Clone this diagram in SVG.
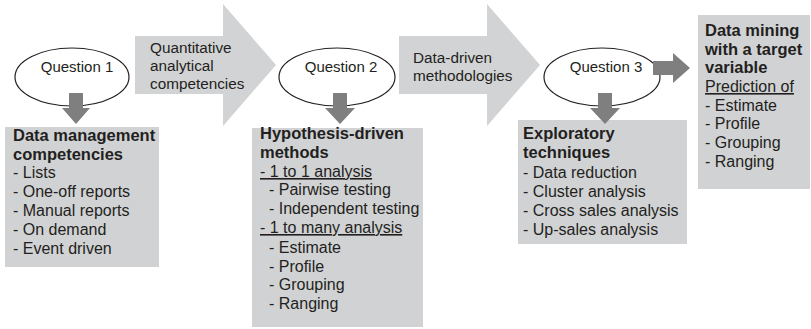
<svg xmlns="http://www.w3.org/2000/svg" width="811" height="329" viewBox="0 0 811 329">
<style>
text{font-family:"Liberation Sans",Arial,sans-serif;font-size:16px;fill:#231f20}
.b{font-weight:bold;font-size:16.5px}
.u{text-decoration:underline}
.lab{font-size:15.3px}
.ql{font-size:15px}
.big{fill:#d2d3d5}
.box{fill:#d1d2d4}
.sm{fill:#7f7f7f}
.q{fill:#fff;stroke:#231f20;stroke-width:1.2}
</style>
<rect width="811" height="329" fill="#fff"/>
<g id="connectors">
<polygon class="big" points="135,36 223,36 223,4 276,65 223,126 223,94 135,94"/>
<polygon class="big" points="399,36 487,36 487,4 540,65 487,126 487,94 399,94"/>
</g>
<g id="box1">
<rect class="box" x="5" y="127" width="154" height="140"/>
<text class="b" x="13" y="141">Data management</text>
<text class="b" x="13" y="160">competencies</text>
<text x="13" y="178">- Lists</text>
<text x="13" y="197">- One-off reports</text>
<text x="13" y="216">- Manual reports</text>
<text x="13" y="235">- On demand</text>
<text x="13" y="254">- Event driven</text>
</g>
<g id="box2">
<rect class="box" x="252" y="128" width="171" height="199"/>
<text class="b" x="260" y="139">Hypothesis-driven</text>
<text class="b" x="260" y="158">methods</text>
<text class="u" x="260" y="177">- 1 to 1 analysis</text>
<text x="269" y="195">- Pairwise testing</text>
<text x="269" y="214">- Independent testing</text>
<text class="u" x="260" y="233">- 1 to many analysis</text>
<text x="269" y="253">- Estimate</text>
<text x="269" y="272">- Profile</text>
<text x="269" y="290">- Grouping</text>
<text x="269" y="309">- Ranging</text>
</g>
<g id="box3">
<rect class="box" x="518" y="120" width="169" height="124"/>
<text class="b" x="523" y="139">Exploratory</text>
<text class="b" x="523" y="158">techniques</text>
<text x="523" y="178">- Data reduction</text>
<text x="523" y="197">- Cluster analysis</text>
<text x="523" y="216">- Cross sales analysis</text>
<text x="523" y="235">- Up-sales analysis</text>
</g>
<g id="box4">
<rect class="box" x="698" y="15" width="112" height="174"/>
<text class="b" x="705" y="36">Data mining</text>
<text class="b" x="705" y="55">with a target</text>
<text class="b" x="705" y="73">variable</text>
<text class="u" x="705" y="92">Prediction of</text>
<text x="705" y="111">- Estimate</text>
<text x="705" y="129">- Profile</text>
<text x="705" y="148">- Grouping</text>
<text x="705" y="167">- Ranging</text>
</g>
<g id="label1">
<text class="lab" x="150" y="53">Quantitative</text>
<text class="lab" x="150" y="71">analytical</text>
<text class="lab" x="150" y="89">competencies</text>
</g>
<g id="label2">
<text class="lab" x="413" y="63">Data-driven</text>
<text class="lab" x="413" y="81">methodologies</text>
</g>
<g id="q1">
<ellipse class="q" cx="72" cy="77" rx="57" ry="29"/>
<text class="ql" x="77" y="72" text-anchor="middle">Question 1</text>
</g>
<g id="q2">
<ellipse class="q" cx="337" cy="77" rx="58" ry="29"/>
<text class="ql" x="341" y="72" text-anchor="middle">Question 2</text>
</g>
<g id="q3">
<ellipse class="q" cx="602" cy="77" rx="58" ry="29"/>
<text class="ql" x="606" y="72" text-anchor="middle">Question 3</text>
</g>
<g id="small-arrows">
<polygon class="sm" points="69,93 83,93 83,108 90,108 76,124 62,108 69,108"/>
<polygon class="sm" points="333,93 347,93 347,108 355,108 340,124 325,108 333,108"/>
<polygon class="sm" points="598,93 612,93 612,108 620,108 605,124 590,108 598,108"/>
<polygon class="sm" points="653,61 673,61 673,53 690,68 673,83 673,75 653,75"/>
</g>
</svg>
